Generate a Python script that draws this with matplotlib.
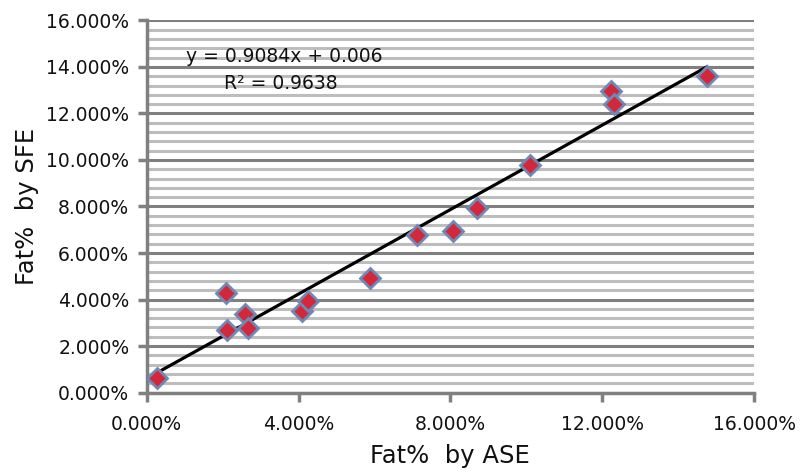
import numpy as np
import matplotlib
matplotlib.use("Agg")
import matplotlib.pyplot as plt
from matplotlib.ticker import PercentFormatter, MultipleLocator

fat_ase = [0.0026, 0.0209, 0.0211, 0.0259, 0.0266, 0.0409, 0.0425, 0.0587,
           0.0712, 0.0806, 0.0869, 0.1009, 0.1224, 0.1231, 0.1475]
fat_sfe = [0.0062, 0.0427, 0.0269, 0.0338, 0.0276, 0.0352, 0.0395, 0.0491,
           0.0677, 0.0696, 0.0792, 0.0978, 0.1298, 0.1240, 0.1363]

# linear trendline as printed on the chart
slope = 0.9084
intercept = 0.006
r2 = 0.9638

fig = plt.figure(figsize=(8.05, 4.72), dpi=100)
ax = fig.add_axes([0.1822, 0.1684, 0.7545, 0.7882])

ax.set_xlim(0, 0.16)
ax.set_ylim(0, 0.16)
ax.xaxis.set_major_locator(MultipleLocator(0.04))
ax.yaxis.set_major_locator(MultipleLocator(0.02))
ax.yaxis.set_minor_locator(MultipleLocator(0.004))
ax.xaxis.set_major_formatter(PercentFormatter(xmax=1, decimals=3))
ax.yaxis.set_major_formatter(PercentFormatter(xmax=1, decimals=3))

# grid: light minor lines, darker major lines (horizontal only)
ax.grid(axis="y", which="minor", color="#bdbdbd", lw=2.2, zorder=0)
ax.grid(axis="y", which="major", color="#7f7f7f", lw=2.2, zorder=0)
ax.set_axisbelow(True)

for s in ["top", "right"]:
    ax.spines[s].set_visible(False)
for s in ["left", "bottom"]:
    ax.spines[s].set_color("#808080")
    ax.spines[s].set_linewidth(2.5)

ax.tick_params(which="major", length=6.5, width=2.5, color="#808080",
               labelsize=13.5, labelcolor="#111111", pad=6)
ax.tick_params(axis="y", which="minor", length=0)
ax.tick_params(axis="x", pad=10)

# trendline
xs = np.array([min(fat_ase) - 0.0009, max(fat_ase)])
ax.plot(xs, slope * xs + intercept, color="black", lw=2.3, zorder=2)

ax.plot(fat_ase, fat_sfe, linestyle="none", marker="D", markersize=10,
        markerfacecolor="#d2283a", markeredgecolor="#6f88b6",
        markeredgewidth=2, zorder=3)

ax.text(0.0363, 0.1443, "y = 0.9084x + 0.006", ha="center", va="center",
        fontsize=13.5, color="#111111")
ax.text(0.0353, 0.1327, "R² = 0.9638", ha="center", va="center",
        fontsize=13.5, color="#111111")

ax.set_xlabel("Fat%  by ASE", fontsize=17.5, labelpad=7, color="#111111")
ax.set_ylabel("Fat%  by SFE", fontsize=17.5, labelpad=5, color="#111111")

plt.savefig("out.png", dpi=100)
